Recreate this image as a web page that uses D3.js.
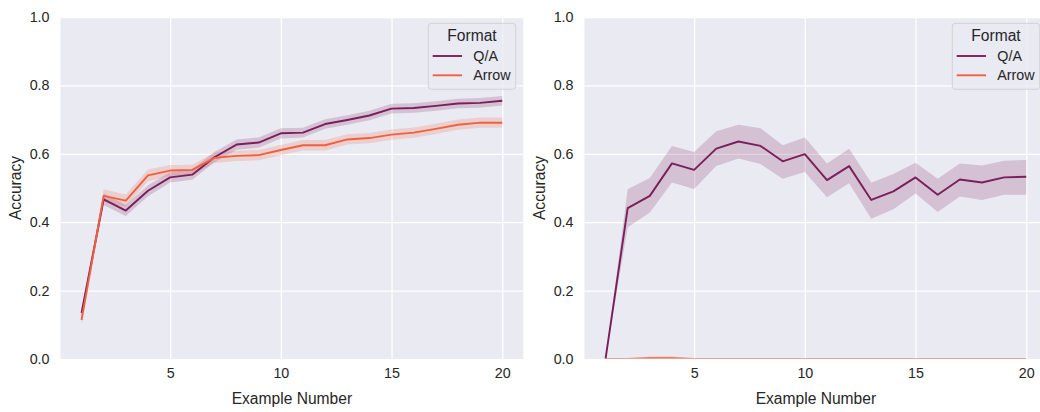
<!DOCTYPE html>
<html>
<head>
<meta charset="utf-8">
<script src="https://cdn.jsdelivr.net/npm/d3@7"></script>
<style>
  html, body { margin: 0; padding: 0; background: #ffffff; }
  svg { display: block; }
  text { font-family: Arial, "Liberation Sans", sans-serif; fill: #262626; }
</style>
</head>
<body>
<svg id="chart" width="1040" height="412"></svg>
<script>
// ---- data ----
const exampleNumbers = [1,2,3,4,5,6,7,8,9,10,11,12,13,14,15,16,17,18,19,20];
const formats = ["Q/A", "Arrow"];

// Left panel
const leftQA      = [0.135,0.467,0.434,0.492,0.531,0.539,0.590,0.627,0.633,0.660,0.662,0.687,0.699,0.712,0.732,0.734,0.740,0.747,0.749,0.755];
const leftQALo    = [0.120,0.450,0.418,0.476,0.516,0.524,0.575,0.612,0.618,0.645,0.648,0.673,0.685,0.698,0.718,0.720,0.726,0.733,0.735,0.741];
const leftQAHi    = [0.150,0.484,0.450,0.508,0.546,0.554,0.605,0.642,0.648,0.675,0.676,0.701,0.713,0.726,0.746,0.748,0.754,0.761,0.763,0.769];
const leftArrow   = [0.114,0.477,0.463,0.537,0.551,0.553,0.588,0.594,0.596,0.611,0.625,0.625,0.642,0.646,0.656,0.662,0.673,0.685,0.691,0.691];
const leftArrowLo = [0.100,0.458,0.445,0.520,0.535,0.538,0.573,0.579,0.581,0.596,0.610,0.610,0.627,0.631,0.641,0.647,0.658,0.670,0.676,0.676];
const leftArrowHi = [0.128,0.496,0.481,0.554,0.567,0.568,0.603,0.609,0.611,0.626,0.640,0.640,0.657,0.661,0.671,0.677,0.688,0.700,0.706,0.706];

// Right panel
const rightQA      = [0.000,0.441,0.477,0.572,0.553,0.615,0.636,0.623,0.578,0.599,0.523,0.564,0.465,0.490,0.531,0.480,0.525,0.516,0.531,0.533];
const rightQALo    = [0.000,0.385,0.428,0.516,0.497,0.564,0.586,0.570,0.527,0.547,0.473,0.514,0.410,0.438,0.484,0.430,0.475,0.465,0.480,0.480];
const rightQAHi    = [0.000,0.496,0.529,0.623,0.605,0.666,0.685,0.675,0.625,0.648,0.572,0.615,0.515,0.541,0.574,0.527,0.572,0.566,0.580,0.582];
const rightArrow   = [0,0,0.002,0.002,0,0,0,0,0,0,0,0,0,0,0,0,0,0,0,0];
const rightArrowLo = [0,0,0,0,0,0,0,0,0,0,0,0,0,0,0,0,0,0,0,0];
const rightArrowHi = [0,0,0.008,0.008,0,0,0,0,0,0,0,0,0,0,0,0,0,0,0,0];

const xTicks = [5, 10, 15, 20];
const yTicks = [0.0, 0.2, 0.4, 0.6, 0.8, 1.0];
const xLabel = "Example Number";
const yLabel = "Accuracy";
const legendTitle = "Format";

const colors = { "Q/A": "#7b1f5c", "Arrow": "#f0603f" };

const panels = [
  { left: 60.5, right: 523.3, series: [
      { name: "Q/A", mean: leftQA, lo: leftQALo, hi: leftQAHi },
      { name: "Arrow", mean: leftArrow, lo: leftArrowLo, hi: leftArrowHi } ],
    legendX: 428.3 },
  { left: 584.5, right: 1047.3, series: [
      { name: "Q/A", mean: rightQA, lo: rightQALo, hi: rightQAHi },
      { name: "Arrow", mean: rightArrow, lo: rightArrowLo, hi: rightArrowHi } ],
    legendX: 952.3 }
];

const plotTop = 17, plotBottom = 359;
const tickFont = "14.3px", labelFont = "15.6px";
const svg = d3.select("#chart");
const defs = svg.append("defs");

panels.forEach((p, pi) => {
  const x = d3.scaleLinear().domain([0.05, 20.95]).range([p.left, p.right]);
  const y = d3.scaleLinear().domain([0, 1]).range([plotBottom, plotTop]);
  const g = svg.append("g");

  const clipId = "clip" + pi;
  defs.append("clipPath").attr("id", clipId)
    .append("rect").attr("x", p.left).attr("y", plotTop)
    .attr("width", p.right - p.left).attr("height", plotBottom - plotTop - 0.5);

  g.append("rect").attr("x", p.left).attr("y", plotTop)
    .attr("width", p.right - p.left).attr("height", plotBottom - plotTop)
    .attr("fill", "#eaeaf2");

  // grid
  const gx = g.append("g").attr("transform", `translate(0,${plotBottom})`)
    .call(d3.axisBottom(x).tickValues(xTicks).tickSize(-(plotBottom - plotTop)).tickFormat(d3.format("d")).tickPadding(9));
  const gy = g.append("g").attr("transform", `translate(${p.left},0)`)
    .call(d3.axisLeft(y).tickValues(yTicks).tickSize(-(p.right - p.left)).tickFormat(d3.format(".1f")).tickPadding(11));
  [gx, gy].forEach(a => {
    a.select(".domain").remove();
    a.selectAll(".tick line").attr("stroke", "#ffffff").attr("stroke-width", 1.25);
    a.selectAll(".tick text").attr("fill", "#262626").style("font-size", tickFont)
      .style("font-family", "Arial, 'Liberation Sans', sans-serif");
  });
  gx.selectAll(".tick text").attr("dy", "0.71em");

  const plot = g.append("g").attr("clip-path", `url(#${clipId})`);
  const area = d3.area().x((d, i) => x(exampleNumbers[i])).y0(d => y(d[0])).y1(d => y(d[1]));
  const line = d3.line().x((d, i) => x(exampleNumbers[i])).y(d => y(d));

  p.series.forEach(s => {
    plot.append("path")
      .datum(s.lo.map((v, i) => [v, s.hi[i]]))
      .attr("d", area)
      .attr("fill", colors[s.name]).attr("fill-opacity", 0.2).attr("stroke", "none");
  });
  p.series.forEach(s => {
    plot.append("path").datum(s.mean).attr("d", line)
      .attr("fill", "none").attr("stroke", colors[s.name]).attr("stroke-width", 1.9)
      .attr("stroke-linejoin", "round").attr("stroke-linecap", "butt");
  });

  // axis labels
  g.append("text").attr("x", (p.left + p.right) / 2).attr("y", 404)
    .attr("text-anchor", "middle").style("font-size", labelFont).text(xLabel);
  g.append("text")
    .attr("transform", `translate(${p.left - 40},${(plotTop + plotBottom) / 2}) rotate(-90)`)
    .attr("text-anchor", "middle").style("font-size", labelFont).text(yLabel);

  // legend
  const lg = g.append("g").attr("transform", `translate(${p.legendX},23.3)`);
  lg.append("rect").attr("x", 0).attr("y", 0).attr("width", 87.4).attr("height", 66)
    .attr("rx", 3).attr("ry", 3)
    .attr("fill", "#eaeaf2").attr("fill-opacity", 0.8)
    .attr("stroke", "#cccccc").attr("stroke-opacity", 0.8).attr("stroke-width", 1);
  lg.append("text").attr("x", 43.7).attr("y", 18).attr("text-anchor", "middle")
    .style("font-size", labelFont).text(legendTitle);
  formats.forEach((f, i) => {
    const yy = 32.7 + i * 19.3;
    lg.append("line").attr("x1", 4.4).attr("x2", 33.7).attr("y1", yy).attr("y2", yy)
      .attr("stroke", colors[f]).attr("stroke-width", 1.9);
    lg.append("text").attr("x", 45).attr("y", yy + 5).style("font-size", tickFont).text(f);
  });
});
</script>
</body>
</html>
